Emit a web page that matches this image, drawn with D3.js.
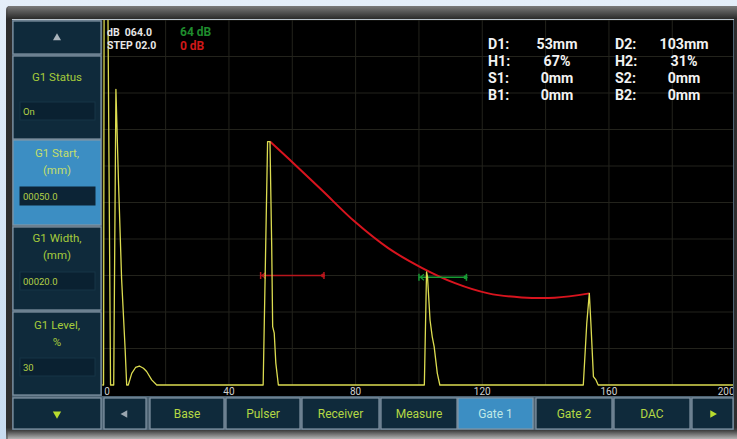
<!DOCTYPE html>
<html><head><meta charset="utf-8">
<script src="https://cdn.jsdelivr.net/npm/d3@7"></script>
<style>html,body{margin:0;padding:0;background:#d6e5f5;overflow:hidden}svg{display:block}</style>
</head><body>
<svg id="c" width="737" height="439"></svg>
<script>
// ---------------- DATA ----------------
const xTickValues = [0, 40, 80, 120, 160, 200];
// A-scan trace: depth (mm) and amplitude (%)
const traceMm  = [0, 0.4, 0.6, 1.6, 2.6, 3.6, 4.3, 5.1, 6.1, 7.2, 7.7, 8.2, 9.3, 10.5, 11.7, 13, 14, 15.6, 17.2,
                  50.8, 51.6, 52.2, 52.95, 53.5, 53.8, 54.3, 54.8, 55.6,
                  101.7, 102.4, 102.7, 103.5, 104.2, 104.8, 105.8, 106.6,
                  151.9, 153.0, 153.8, 154.3, 155.1, 155.9, 156.6, 200];
const tracePct = [0, 0, 125, 125, 0, 0, 81, 56, 29, 10, 0, 0, 3.2, 4.8, 5.2, 4.6, 3.7, 1.4, 0,
                  0, 38, 66.7, 66.7, 38, 16, 14.2, 6, 0,
                  0, 31, 29.7, 17.8, 13.2, 10.5, 3.2, 0,
                  0, 16.9, 25.1, 16.9, 2.3, 1.4, 0, 0];
// DAC curve
const dacMm  = [52.95, 58.7, 69.3, 79.8, 90.3, 100.9, 111.4, 121.9, 132.4, 142.9, 153.8];
const dacPct = [66.7, 62.1, 53.4, 44.7, 37.5, 32.1, 27.9, 25.1, 24.0, 23.9, 25.1];
// Gates
const gateNames  = ["G1", "G2"];
const gateStarts = [50, 100];
const gateWidths = [20, 15];
const gateLevels = [30, 29.5];
// Readouts
const measLabels1 = ["D1:", "H1:", "S1:", "B1:"];
const measValues1 = ["53mm", "67%", "0mm", "0mm"];
const measLabels2 = ["D2:", "H2:", "S2:", "B2:"];
const measValues2 = ["103mm", "31%", "0mm", "0mm"];
const gainTexts = ["dB  064.0", "STEP 02.0"];
const gainRight = ["64 dB", "0 dB"];
// Side menu
const sideLabels = [["G1 Status"], ["G1 Start,", "(mm)"], ["G1 Width,", "(mm)"], ["G1 Level,", "%"]];
const sideValues = ["On", "00050.0", "00020.0", "30"];
const sideSelected = 1;
// Bottom menu
const menuItems = ["◄", "Base", "Pulser", "Receiver", "Measure", "Gate 1", "Gate 2", "DAC", "►"];
const menuSelected = 5;

// ---------------- LAYOUT ----------------
const FONT = "Roboto, 'Liberation Sans', sans-serif";
const svg = d3.select("#c");
const defs = svg.append("defs");
const bg = defs.append("linearGradient").attr("id","bez").attr("x1",0).attr("x2",0).attr("y1",0).attr("y2",1);
bg.append("stop").attr("offset","0%").attr("stop-color","#6a6a6a");
bg.append("stop").attr("offset","3%").attr("stop-color","#2c2c2c");
bg.append("stop").attr("offset","96%").attr("stop-color","#2e2e2e");
bg.append("stop").attr("offset","100%").attr("stop-color","#a9a9a9");
const topg = defs.append("linearGradient").attr("id","topg").attr("x1",0).attr("x2",0).attr("y1",0).attr("y2",1);
topg.append("stop").attr("offset","0%").attr("stop-color","#e4eef9");
topg.append("stop").attr("offset","100%").attr("stop-color","#c9dcf0");

svg.append("rect").attr("width",737).attr("height",439).attr("fill","url(#topg)");
svg.append("rect").attr("x",6).attr("y",6).attr("width",737).attr("height",439).attr("rx",4).attr("fill","url(#bez)");
const bb = defs.append("linearGradient").attr("id","bb").attr("x1",0).attr("x2",0).attr("y1",0).attr("y2",1);
bb.append("stop").attr("offset","0%").attr("stop-color","#3a3a3a");
bb.append("stop").attr("offset","100%").attr("stop-color","#b4b4b4");
svg.append("rect").attr("x",8).attr("y",430).attr("width",737).attr("height",9).attr("fill","url(#bb)");
const tb = defs.append("linearGradient").attr("id","tb").attr("x1",0).attr("x2",0).attr("y1",0).attr("y2",1);
tb.append("stop").attr("offset","0%").attr("stop-color","#7a7a7a");
tb.append("stop").attr("offset","100%").attr("stop-color","#2a2a2a");
svg.append("rect").attr("x",8).attr("y",6).attr("width",737).attr("height",13).attr("fill","url(#tb)");

// screen
svg.append("rect").attr("x",12).attr("y",19).attr("width",722).attr("height",411).attr("fill","#4d6373");
svg.append("line").attr("x1",12).attr("x2",734).attr("y1",19.5).attr("y2",19.5).attr("stroke","#b9c3cc").attr("stroke-width",1);

// plot area
const PX0 = 102.3, PX1 = 735.6, PY0 = 385, PY1 = 20;
const x = d3.scaleLinear().domain([0, 200]).range([PX0, PX1]);
const y = d3.scaleLinear().domain([0, 100]).range([PY0, PY1]);
svg.append("rect").attr("x",102).attr("y",20).attr("width",631).attr("height",376).attr("fill","#000");
defs.append("clipPath").attr("id","clip").append("rect").attr("x",102).attr("y",20).attr("width",631).attr("height",376);
const plot = svg.append("g").attr("clip-path","url(#clip)");

// grid
plot.append("g").selectAll("line").data(d3.range(0, 201, 20)).join("line")
  .attr("x1", d => x(d)).attr("x2", d => x(d)).attr("y1", y(100)).attr("y2", y(0))
  .attr("stroke", "#23231c").attr("stroke-width", 1);
plot.append("g").selectAll("line").data(d3.range(10, 101, 10)).join("line")
  .attr("x1", x(0)).attr("x2", x(200)).attr("y1", d => y(d)).attr("y2", d => y(d))
  .attr("stroke", "#23231c").attr("stroke-width", 1);

// axis labels
plot.append("g").selectAll("text").data(xTickValues).join("text")
  .attr("x", (d, i) => i === 0 ? x(d) + 2 : (i === xTickValues.length - 1 ? x(d) - 1 : x(d)))
  .attr("y", 395)
  .attr("text-anchor", (d, i) => i === 0 ? "start" : (i === xTickValues.length - 1 ? "end" : "middle"))
  .attr("font-family", FONT).attr("font-size", 10).attr("fill", "#d0d0d0").text(d => d);

// DAC curve
const dac = dacMm.map((m, i) => [m, dacPct[i]]);
plot.append("path").datum(dac)
  .attr("d", d3.line().x(d => x(d[0])).y(d => y(d[1])).curve(d3.curveCatmullRom.alpha(0.5)))
  .attr("fill", "none").attr("stroke", "#d8141e").attr("stroke-width", 2);

// gates
const gateColors = ["#b8161c", "#179a34"];
gateNames.forEach((g, i) => {
  const gy = y(gateLevels[i]), gx0 = x(gateStarts[i]), gx1 = x(gateStarts[i] + gateWidths[i]);
  const gg = plot.append("g");
  gg.append("line").attr("x1", gx0).attr("x2", gx1).attr("y1", gy).attr("y2", gy)
    .attr("stroke", gateColors[i]).attr("stroke-width", 1.5);
  gg.append("line").attr("x1", gx0).attr("x2", gx0).attr("y1", gy - 3.5).attr("y2", gy + 3.5)
    .attr("stroke", gateColors[i]).attr("stroke-width", 1.5);
  gg.append("path").attr("d", `M${gx0 + 5},${gy - 3}L${gx0 + 1.5},${gy}L${gx0 + 5},${gy + 3}`)
    .attr("fill", "none").attr("stroke", gateColors[i]).attr("stroke-width", 1.2);
  gg.append("line").attr("x1", gx1).attr("x2", gx1).attr("y1", gy - 3.5).attr("y2", gy + 3.5)
    .attr("stroke", gateColors[i]).attr("stroke-width", 1.5);
  gg.append("circle").attr("cx", gx1 - 1).attr("cy", gy).attr("r", 2).attr("fill", gateColors[i]);
});

// trace
const trace = traceMm.map((m, i) => [m, tracePct[i]]);
plot.append("path").datum(trace)
  .attr("d", d3.line().x(d => x(d[0])).y(d => y(d[1])))
  .attr("fill", "none").attr("stroke", "#dcdc50").attr("stroke-width", 1.3).attr("stroke-linejoin", "round");

// gain texts
gainTexts.forEach((t, i) => {
  svg.append("text").attr("x", 107).attr("y", 35.5 + i * 13.5).attr("font-family", FONT).attr("font-size", 10.5)
    .attr("font-weight", "bold").attr("fill", "#e6e6e6").style("white-space","pre").text(t);
});
["#1f8c2d", "#d01818"].forEach((c, i) => {
  svg.append("text").attr("x", 180).attr("y", 36 + i * 13.5).attr("font-family", FONT).attr("font-size", 12)
    .attr("font-weight", "bold").attr("fill", c).text(gainRight[i]);
});

// readouts
const readG = svg.append("g").attr("font-family", FONT).attr("font-size", 14.2).attr("font-weight", "bold").attr("fill", "#f2f2f2");
measLabels1.forEach((t, i) => {
  const yy = 48.5 + i * 17;
  readG.append("text").attr("x", 488).attr("y", yy).text(t);
  readG.append("text").attr("x", 557).attr("y", yy).attr("text-anchor", "middle").text(measValues1[i]);
  readG.append("text").attr("x", 615).attr("y", yy).text(measLabels2[i]);
  readG.append("text").attr("x", 684).attr("y", yy).attr("text-anchor", "middle").text(measValues2[i]);
});

// side panel
const BTN = "#0f2a3b", SEL = "#3c8ec3", BORDER = "#8396a6", GREEN = "#a6cc3c";
function button(x0, y0, w, h, sel) {
  svg.append("rect").attr("x", x0).attr("y", y0).attr("width", w).attr("height", h)
    .attr("fill", sel ? SEL : BTN).attr("stroke", BORDER).attr("stroke-width", 1.2);
}
button(13, 21, 88, 33, false);
svg.append("path").attr("d", d3.symbol(d3.symbolTriangle, 28)()).attr("transform", "translate(57,38)").attr("fill", "#aab4bc");
const sideY = [[56, 83], [140, 85], [227, 83], [312, 83]];
const sideTextY = [[81], [157, 174], [242, 259], [329, 346]];
const boxY = [102, 187, 272, 358];
sideLabels.forEach((lines, i) => {
  const sel = i === sideSelected;
  button(13, sideY[i][0], 88, sideY[i][1], sel);
  lines.forEach((ln, j) => {
    svg.append("text").attr("x", 57).attr("y", sideTextY[i][j]).attr("text-anchor", "middle")
      .attr("font-family", FONT).attr("font-size", 11.5).attr("fill", sel ? "#c4de6a" : GREEN).text(ln);
  });
  svg.append("rect").attr("x", 20).attr("y", boxY[i]).attr("width", 75).attr("height", 18)
    .attr("fill", sel ? "#0c2436" : "#0a2131").attr("stroke", sel ? "#0c2436" : "#163446").attr("stroke-width", 1);
  svg.append("text").attr("x", 23).attr("y", boxY[i] + 12.5).attr("font-family", FONT).attr("font-size", 9.5)
    .attr("fill", "#b3d046").text(sideValues[i]);
});
button(13, 398, 88, 31, false);
svg.append("path").attr("d", d3.symbol(d3.symbolTriangle, 30)()).attr("transform", "translate(57,414) rotate(180)").attr("fill", "#b8dc2e");

// bottom menu
const menuEdges = [[104, 146], [150, 224], [226, 300], [302, 379], [381, 457], [458, 533], [536, 612], [614, 690], [692, 733]];
menuItems.forEach((m, i) => {
  const [a, b] = menuEdges[i];
  const sel = i === menuSelected;
  button(a, 398, b - a, 31, sel);
  const cx = (a + b) / 2;
  if (m === "◄" || m === "►") {
    svg.append("path").attr("d", d3.symbol(d3.symbolTriangle, 26)())
      .attr("transform", `translate(${cx},414) rotate(${m === "◄" ? -90 : 90})`)
      .attr("fill", m === "◄" ? "#9aa6b0" : "#b8dc2e");
  } else {
    svg.append("text").attr("x", cx).attr("y", 418).attr("text-anchor", "middle")
      .attr("font-family", FONT).attr("font-size", 12).attr("fill", sel ? "#bfe8e6" : "#b4d844").text(m);
  }
});
</script>
</body></html>
